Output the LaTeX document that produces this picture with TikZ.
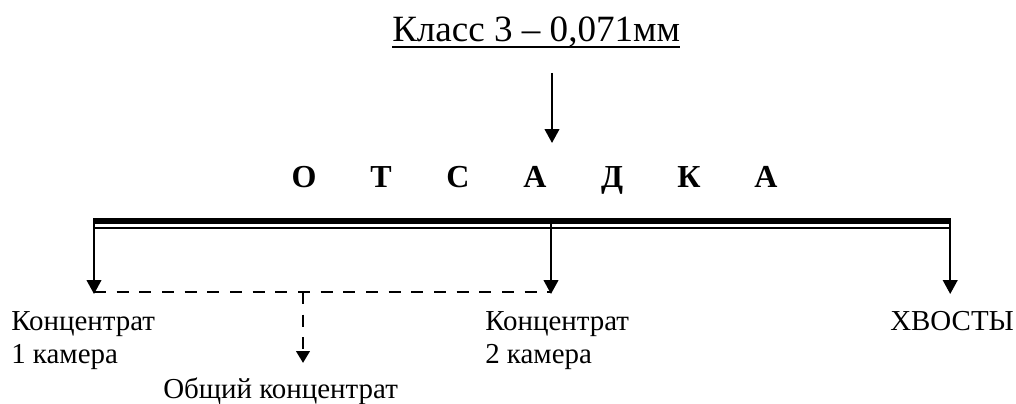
\documentclass[tikz,border=0pt]{standalone}
\usepackage{fontspec}
\setmainfont{Liberation Serif}
\usetikzlibrary{arrows.meta}
\tikzset{
  px/.style={x=0.75pt,y=-0.75pt},
  flow/.style={line width=1.5pt,-{Triangle[length=10.5pt,width=11pt]}},
  dflow/.style={line width=2.2pt,dash pattern=on 9pt off 8pt},
  dflowtip/.style={dflow,-{Triangle[length=9pt,width=10pt]}},
  lbl/.style={inner sep=0pt,anchor=base west,font=\fontsize{21.7pt}{26pt}\selectfont},
  ttl/.style={inner sep=0pt,anchor=base west,font=\fontsize{27.8pt}{33pt}\selectfont},
  letter/.style={inner sep=0pt,anchor=base,font=\fontsize{24pt}{28pt}\selectfont\bfseries},
}
\begin{document}
\begin{tikzpicture}[px]
\useasboundingbox (0,0) rectangle (1016,403);

% feed class
\node[ttl] (title) at (392,42) {Класс 3 – 0,071мм};
\draw[line width=1.6pt] ([yshift=-4pt]title.base west) -- ([yshift=-4pt]title.base east);
\coordinate (feed) at (552,73);
\coordinate (feedend) at (552,143);
\draw[flow] (feed) -- (feedend);

% process name, spaced letters
\foreach \ch [count=\i from 0] in {О,Т,С,А,Д,К,А}
  \node[letter] (l\i) at (304+77*\i,187) {\ch};

% jig bed: thick bar with thin line below
\coordinate (bl) at (93,221);
\coordinate (br) at (951,221);
\draw[line width=4.5pt] (bl) -- (br);
\draw[line width=1.1pt] (93,228) -- (951,228);

% outlets
\coordinate (c1top) at (94,218);
\coordinate (c1) at (94,294);
\coordinate (c2top) at (551,218);
\coordinate (c2) at (551,294);
\coordinate (ttop) at (950.2,218);
\coordinate (t) at (950.2,294);
\draw[flow] (c1top) -- (c1);
\draw[flow] (c2top) -- (c2);
\draw[flow] (ttop) -- (t);

% combined concentrate (dashed)
\coordinate (d1) at (94,292);
\coordinate (d2) at (551,292);
\coordinate (dm) at (303,292);
\coordinate (dend) at (303,363);
\draw[dflow] (d1) -- (d2);
\draw[dflowtip] (dm) -- (dend);

% labels
\node[lbl] (k1a) at (11,330) {Концентрат};
\node[lbl] (k1b) at (11,363) {1 камера};
\node[lbl] (k2a) at (485,330) {Концентрат};
\node[lbl] (k2b) at (485,363) {2 камера};
\node[lbl] (tails) at (890,330) {ХВОСТЫ};
\node[lbl] (total) at (163,398) {Общий концентрат};
\end{tikzpicture}
\end{document}
